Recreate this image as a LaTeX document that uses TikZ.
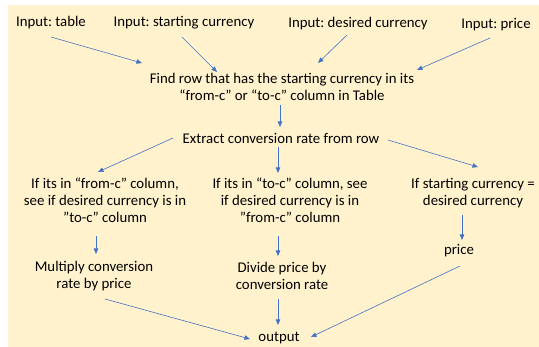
\documentclass[tikz,border=0pt]{standalone}
\usepackage{fontspec}
\setmainfont{Carlito}
\frenchspacing
\usetikzlibrary{arrows.meta,calc}
\definecolor{bgc}{HTML}{FFF2CC}
\definecolor{arrc}{HTML}{4472C4}
\tikzset{
  lbl/.style={inner sep=0pt, align=center, font=\fontsize{14.8}{16.8}\selectfont, text=black},
  arr/.style={draw=arrc, line width=0.6pt, -{Triangle[length=5.5pt,width=4.5pt]}}
}
\begin{document}
\begin{tikzpicture}[x=1pt,y=1pt]
\useasboundingbox (0,0) rectangle (539,-347);
\fill[bgc] (8,-5) rectangle (539,-347);
\node[lbl] (table) at (51,-23) {Input: table};
\node[lbl] (start) at (184,-23) {Input: starting currency};
\node[lbl] (desired) at (358,-24) {Input: desired currency};
\node[lbl] (priceIn) at (496,-25) {Input: price};
\node[lbl] (find) at (282,-87) {Find row that has the starting currency in its\\“from-c” or “to-c” column in Table};
\node[lbl] (extract) at (281,-138) {Extract conversion rate from row};
\node[lbl] (left) at (105,-200) {If its in “from-c” column,\\see if desired currency is in\\”to-c” column};
\node[lbl] (mid) at (290,-200) {If its in “to-c” column, see\\if desired currency is in\\”from-c” column};
\node[lbl] (right) at (473,-193) {If starting currency =\\desired currency};
\node[lbl] (mult) at (94,-276) {Multiply conversion\\rate by price};
\node[lbl] (div) at (282,-276) {Divide price by\\conversion rate};
\node[lbl] (price) at (459,-251) {price};
\node[lbl] (output) at (279,-338) {output};
\draw[arr] ($(table)+(0,-14)$) -- ($(find)+(-140,24)$);
\draw[arr] ($(start)+(-2,-14)$) -- ($(find)+(-65,15)$);
\draw[arr] ($(desired)+(-11,-11)$) -- ($(find)+(36,24)$);
\draw[arr] ($(priceIn)+(-6,-13)$) -- ($(find)+(135,17)$);
\draw[arr] ($(find)+(-2,-18)$) -- ($(extract)+(-1,11)$);
\draw[arr] ($(extract)+(-108,0)$) -- ($(left)+(-7,28)$);
\draw[arr] ($(extract)+(-3,-9)$) -- ($(mid)+(-12,27)$);
\draw[arr] ($(extract)+(107,-2)$) -- ($(right)+(5,26)$);
\draw[arr] ($(left)+(-9,-36)$) -- ($(mult)+(2,22)$);
\draw[arr] ($(mid)+(-12,-36)$) -- ($(div)+(-4,20)$);
\draw[arr] ($(right)+(-11,-22)$) -- ($(price)+(3,11)$);
\draw[arr] ($(mult)+(11,-23)$) -- ($(output)+(-29,-1)$);
\draw[arr] ($(div)+(-4,-23)$) -- ($(output)+(-1,13)$);
\draw[arr] ($(price)+(1,-15)$) -- ($(output)+(32,1)$);
\end{tikzpicture}
\end{document}
